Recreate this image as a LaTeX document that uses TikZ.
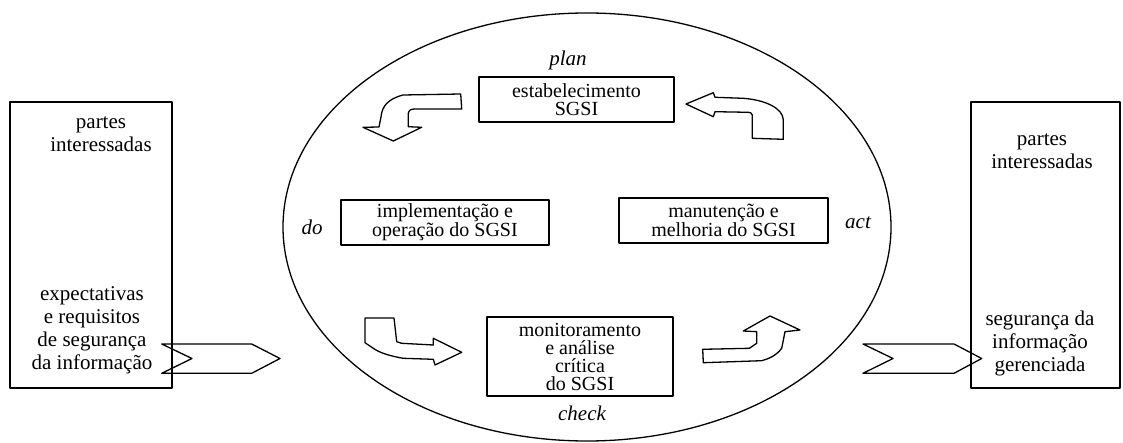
\documentclass[tikz,border=0pt]{standalone}
\usepackage{fontspec}
\setmainfont{Liberation Serif}
\begin{document}
\begin{tikzpicture}[x=1pt,y=-1pt, line join=round,
  lbl/.style={font=\fontsize{20}{18}\selectfont, align=center, inner sep=0pt},
  sidetxt/.style={font=\fontsize{21}{23}\selectfont, align=center, inner sep=0pt},
  phase/.style={font=\fontsize{21}{21}\selectfont\itshape, inner sep=0pt},
  stagebox/.style={draw, line width=1.3pt, lbl},
  outline/.style={draw, line width=1.3pt}]
\useasboundingbox (0,0) rectangle (1123,443);
% cycle ellipse
\draw[outline] (587,227) ellipse [x radius=304pt, y radius=214pt];
% side boxes
\draw[outline] (10,102) rectangle (172,388);
\draw[outline] (971,102) rectangle (1120,388);
\node[sidetxt] (lpartes) at (101,134) {partes\\interessadas};
\node[sidetxt] (lexp) at (92,330) {expectativas\\e requisitos\\de segurança\\da informação};
\node[sidetxt] (rpartes) at (1042,151.5) {partes\\interessadas};
\node[sidetxt] (rseg) at (1040,343) {segurança da\\informação\\gerenciada};
% stage boxes
\node[stagebox, minimum width=195pt, minimum height=45pt] (plan) at (576.5,99.5) {estabelecimento\\SGSI};
\node[stagebox, minimum width=208pt, minimum height=45pt] (do) at (445,222.5) {implementação e\\operação do SGSI};
\node[stagebox, minimum width=209pt, minimum height=45pt] (act) at (723.5,220.5) {manutenção e\\melhoria do SGSI};
\node[stagebox, minimum width=186pt, minimum height=79pt] (check) at (580,356.5) {monitoramento\\e análise\\crítica\\do SGSI};
% phase labels
\node[phase] (lplan) at (568,60) {plan};
\node[phase] (ldo) at (312,227) {do};
\node[phase] (lact) at (858,223) {act};
\node[phase] (lcheck) at (582,413) {check};
% chevrons
\draw[outline] (161.7,344) -- (251.7,344) -- (280,358.5) -- (251.7,373.3) -- (161.7,373.3) -- (192,358.5) -- cycle;
\draw[outline] (863,344) -- (954,344) -- (981.7,358.5) -- (954,373.3) -- (863,373.3) -- (893,358.5) -- cycle;
% bent arrows
\draw[outline] (460.7,94) -- (403,95) .. controls (388,99) and (382,106) .. (381,117) -- (379,127) -- (363,127.3) -- (393.3,141) -- (421.7,127.3) -- (408.3,126.7) -- (408.3,113.3) .. controls (409,110) and (411,109) .. (415,109) -- (461.7,109) -- cycle;
\draw[outline] (686,104) -- (713.3,92.7) -- (715,97.3) -- (743.3,98.3) .. controls (765,100) and (783,108) .. (783.3,120) -- (783.3,139.3) -- (752.3,138.3) -- (752.3,115) .. controls (752,113) and (750,112.3) .. (748.3,112.3) -- (715,111.7) -- (713.3,116.7) -- cycle;
\draw[outline] (365,318) -- (394,318) -- (396.7,341.7) -- (401.7,343.3) -- (433.3,345) -- (433.3,338.3) -- (461.7,352.3) -- (435,365) -- (433.3,359.3) -- (403.3,358.3) .. controls (390,356) and (380,353) .. (373.3,348.3) -- (365,342.7) -- cycle;
\draw[outline] (770,316) -- (800,330) -- (785,331.7) -- (781.7,348.3) .. controls (776,356) and (768,359) .. (761.7,360.7) -- (703.3,362.7) -- (702.7,349.3) -- (749.3,348.3) -- (756.7,343.3) -- (756.7,331.7) -- (743.3,331) -- cycle;
\end{tikzpicture}
\end{document}
